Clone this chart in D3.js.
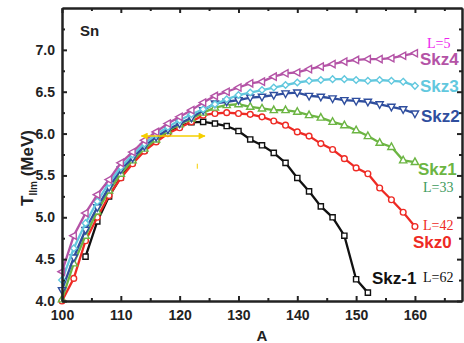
<!DOCTYPE html>
<html>
<head>
<meta charset="utf-8">
<script src="https://cdn.jsdelivr.net/npm/d3@7"></script>
<style>
  body { margin: 0; background: #fff; }
  text { font-family: "Liberation Sans", Arial, sans-serif; }
</style>
</head>
<body>
<div id="chart"></div>
<script>
// mass numbers
const aAll = [100, 102, 104, 106, 108, 110, 112, 114, 116, 118, 120, 122, 124, 126, 128, 130,
              132, 134, 136, 138, 140, 142, 144, 146, 148, 150, 152, 154, 156, 158, 160];
const aSkzm1 = [104, 106, 108, 110, 112, 114, 116, 118, 120, 122, 124, 126, 128, 130,
                132, 134, 136, 138, 140, 142, 144, 146, 148, 150, 152];

// T_llm (MeV) per interaction
const tSkz4 = [4.35, 4.78, 5.05, 5.27, 5.45, 5.65, 5.78, 5.92, 6.02, 6.12, 6.20, 6.28, 6.37, 6.45, 6.50, 6.55,
               6.60, 6.62, 6.68, 6.72, 6.73, 6.77, 6.80, 6.83, 6.86, 6.88, 6.89, 6.89, 6.90, 6.93, 6.96];
const tSkz3 = [4.25, 4.63, 4.93, 5.19, 5.41, 5.60, 5.75, 5.88, 5.99, 6.08, 6.16, 6.23, 6.29, 6.35, 6.41, 6.46,
               6.49, 6.52, 6.55, 6.58, 6.61, 6.63, 6.64, 6.65, 6.65, 6.64, 6.63, 6.64, 6.63, 6.62, 6.57];
const tSkz2 = [4.13, 4.52, 4.85, 5.12, 5.36, 5.57, 5.71, 5.85, 5.96, 6.05, 6.12, 6.19, 6.28, 6.36, 6.38, 6.40,
               6.43, 6.44, 6.46, 6.48, 6.49, 6.45, 6.44, 6.42, 6.40, 6.39, 6.38, 6.35, 6.32, 6.29, 6.24];
const tSkz1 = [4.02, 4.45, 4.78, 5.07, 5.32, 5.52, 5.68, 5.82, 5.93, 6.03, 6.11, 6.18, 6.25, 6.31, 6.34, 6.35,
               6.32, 6.30, 6.28, 6.28, 6.26, 6.22, 6.19, 6.14, 6.10, 6.04, 5.97, 5.89, 5.84, 5.68, 5.66];
const tSkz0 = [4.00, 4.27, 4.72, 5.00, 5.26, 5.47, 5.64, 5.79, 5.90, 6.00, 6.07, 6.14, 6.22, 6.24, 6.25, 6.24,
               6.23, 6.20, 6.15, 6.10, 6.02, 5.97, 5.88, 5.81, 5.70, 5.59, 5.52, 5.35, 5.21, 5.06, 4.89];
const tSkzm1 = [4.53, 4.95, 5.25, 5.48, 5.66, 5.80, 5.92, 6.02, 6.09, 6.135, 6.14, 6.12, 6.09, 6.03,
                5.93, 5.86, 5.77, 5.65, 5.47, 5.31, 5.13, 5.00, 4.78, 4.26, 4.10];

const xTicks = [100, 110, 120, 130, 140, 150, 160];
const yTicks = [4.0, 4.5, 5.0, 5.5, 6.0, 6.5, 7.0];

// yellow double arrow, in data units
const arrowA = [113.5, 124.3];
const arrowT = 5.97;

const width = 464, height = 343;
const margin = { top: 8, right: 2, bottom: 42, left: 62 };

const svg = d3.select('#chart').append('svg')
  .attr('width', width)
  .attr('height', height);

const x = d3.scaleLinear().domain([100, 168]).range([margin.left, width - margin.right]);
const y = d3.scaleLinear().domain([4.0, 7.5]).range([height - margin.bottom, margin.top]);

// symbol paths
const tri = (s, rot) => {
  const p = [[0, -s * 0.62], [s * 0.55, s * 0.38], [-s * 0.55, s * 0.38]];
  const c = Math.cos(rot), sn = Math.sin(rot);
  return 'M' + p.map(q => [q[0] * c - q[1] * sn, q[0] * sn + q[1] * c].join(',')).join('L') + 'Z';
};
const shapes = {
  left: tri(6.6, -Math.PI / 2),
  up: tri(6.6, 0),
  down: tri(6.6, Math.PI),
  diamond: 'M0,-3.3L3.3,0L0,3.3L-3.3,0Z',
  circle: d3.symbol(d3.symbolCircle, 26)(),
  square: 'M-2.6,-2.6H2.6V2.6H-2.6Z'
};

const series = [
  { name: 'Skz-1', a: aSkzm1, t: tSkzm1, color: '#111111', shape: 'square' },
  { name: 'Skz0', a: aAll, t: tSkz0, color: '#ee2a24', shape: 'circle' },
  { name: 'Skz1', a: aAll, t: tSkz1, color: '#6cb543', shape: 'up' },
  { name: 'Skz2', a: aAll, t: tSkz2, color: '#2f4e9e', shape: 'down' },
  { name: 'Skz3', a: aAll, t: tSkz3, color: '#62c8de', shape: 'diamond' },
  { name: 'Skz4', a: aAll, t: tSkz4, color: '#b453a6', shape: 'left' }
];

const line = d3.line().x(d => x(d[0])).y(d => y(d[1]));

series.forEach(s => {
  const pts = s.a.map((a, i) => [a, s.t[i]]);
  const g = svg.append('g');
  g.append('path')
    .attr('d', line(pts))
    .attr('fill', 'none')
    .attr('stroke', s.color)
    .attr('stroke-width', 2.3);
  g.selectAll('path.m')
    .data(pts)
    .enter().append('path')
    .attr('class', 'm')
    .attr('d', shapes[s.shape])
    .attr('transform', d => `translate(${x(d[0])},${y(d[1])})`)
    .attr('fill', '#fff')
    .attr('stroke', s.color)
    .attr('stroke-width', 1.4);
});

// yellow arrow
const defs = svg.append('defs');
defs.append('marker')
  .attr('id', 'ah')
  .attr('viewBox', '0 0 10 10')
  .attr('refX', 9).attr('refY', 5)
  .attr('markerWidth', 9).attr('markerHeight', 7)
  .attr('markerUnits', 'userSpaceOnUse')
  .attr('orient', 'auto-start-reverse')
  .append('path').attr('d', 'M0,0L10,5L0,10Z').attr('fill', '#f5cf00');
svg.append('line')
  .attr('x1', x(arrowA[0])).attr('x2', x(arrowA[1]))
  .attr('y1', y(arrowT)).attr('y2', y(arrowT))
  .attr('stroke', '#f5cf00').attr('stroke-width', 1.5)
  .attr('marker-start', 'url(#ah)').attr('marker-end', 'url(#ah)');
svg.append('line')
  .attr('x1', x(123)).attr('x2', x(123))
  .attr('y1', y(5.64)).attr('y2', y(5.58))
  .attr('stroke', '#f5cf00').attr('stroke-width', 1);

// axes
const xMinor = d3.range(105, 168, 10);
const yMinor = d3.range(4.25, 7.5, 0.5);
function styleAxis(g) {
  g.select('.domain').attr('stroke', '#222').attr('stroke-width', 2);
  g.selectAll('.tick line').attr('stroke', '#222').attr('stroke-width', 2);
  g.selectAll('text').attr('font-size', 14).attr('font-weight', 'bold').attr('fill', '#222');
}
const h = height - margin.bottom, w = width - margin.right;

svg.append('g').attr('transform', `translate(0,${h})`)
  .call(d3.axisBottom(x).tickValues(xTicks).tickSize(-5).tickSizeOuter(0).tickPadding(9).tickFormat(d3.format('d')))
  .call(styleAxis);
svg.append('g').attr('transform', `translate(0,${h})`)
  .call(d3.axisBottom(x).tickValues(xMinor).tickSize(-3).tickSizeOuter(0).tickFormat(''))
  .call(styleAxis);
svg.append('g').attr('transform', `translate(0,${margin.top})`)
  .call(d3.axisTop(x).tickValues(xTicks).tickSize(-5).tickSizeOuter(0).tickFormat(''))
  .call(styleAxis);
svg.append('g').attr('transform', `translate(0,${margin.top})`)
  .call(d3.axisTop(x).tickValues(xMinor).tickSize(-3).tickSizeOuter(0).tickFormat(''))
  .call(styleAxis);
svg.append('g').attr('transform', `translate(${margin.left},0)`)
  .call(d3.axisLeft(y).tickValues(yTicks).tickSize(-5).tickSizeOuter(0).tickPadding(7).tickFormat(d3.format('.1f')))
  .call(styleAxis);
svg.append('g').attr('transform', `translate(${margin.left},0)`)
  .call(d3.axisLeft(y).tickValues(yMinor).tickSize(-3).tickSizeOuter(0).tickFormat(''))
  .call(styleAxis);
svg.append('g').attr('transform', `translate(${w},0)`)
  .call(d3.axisRight(y).tickValues(yTicks).tickSize(-5).tickSizeOuter(0).tickFormat(''))
  .call(styleAxis);
svg.append('g').attr('transform', `translate(${w},0)`)
  .call(d3.axisRight(y).tickValues(yMinor).tickSize(-3).tickSizeOuter(0).tickFormat(''))
  .call(styleAxis);

// axis titles
svg.append('text')
  .attr('x', x(134)).attr('y', 341)
  .attr('text-anchor', 'middle')
  .attr('font-size', 15).attr('font-weight', 'bold').attr('fill', '#222')
  .text('A');
const yl = svg.append('text')
  .attr('transform', `translate(33,168) rotate(-90)`)
  .attr('text-anchor', 'middle')
  .attr('font-size', 17).attr('font-weight', 'bold').attr('fill', '#222');
yl.append('tspan').text('T');
yl.append('tspan').attr('font-size', 10).attr('dy', 4).text('llm');
yl.append('tspan').attr('dy', -4).text(' (MeV)');

svg.append('text')
  .attr('x', 80).attr('y', 36)
  .attr('font-size', 15).attr('font-weight', 'bold').attr('fill', '#222')
  .text('Sn');

// curve labels
const labels = [
  { t: 'Skz4', x: 420, y: 65, c: '#b453a6' },
  { t: 'Skz3', x: 420, y: 92, c: '#62c8de' },
  { t: 'Skz2', x: 421, y: 122, c: '#2f4e9e' },
  { t: 'Skz1', x: 418, y: 175, c: '#6cb543' },
  { t: 'Skz0', x: 413, y: 248, c: '#ee2a24' },
  { t: 'Skz-1', x: 372, y: 284, c: '#111111' }
];
svg.selectAll('text.lab').data(labels).enter().append('text')
  .attr('class', 'lab')
  .attr('x', d => d.x).attr('y', d => d.y)
  .attr('font-size', 17).attr('font-weight', 'bold').attr('fill', d => d.c)
  .text(d => d.t);

const lLabels = [
  { t: 'L=5', x: 427, y: 48, c: '#ee22ee' },
  { t: 'L=33', x: 423, y: 192, c: '#3d9a5c' },
  { t: 'L=42', x: 423, y: 230, c: '#ee2a24' },
  { t: 'L=62', x: 423, y: 282, c: '#111111' }
];
svg.selectAll('text.ll').data(lLabels).enter().append('text')
  .attr('class', 'll')
  .attr('x', d => d.x).attr('y', d => d.y)
  .attr('font-size', 14).attr('fill', d => d.c)
  .style('font-family', '"Liberation Serif", "Times New Roman", serif')
  .text(d => d.t);
</script>
</body>
</html>
